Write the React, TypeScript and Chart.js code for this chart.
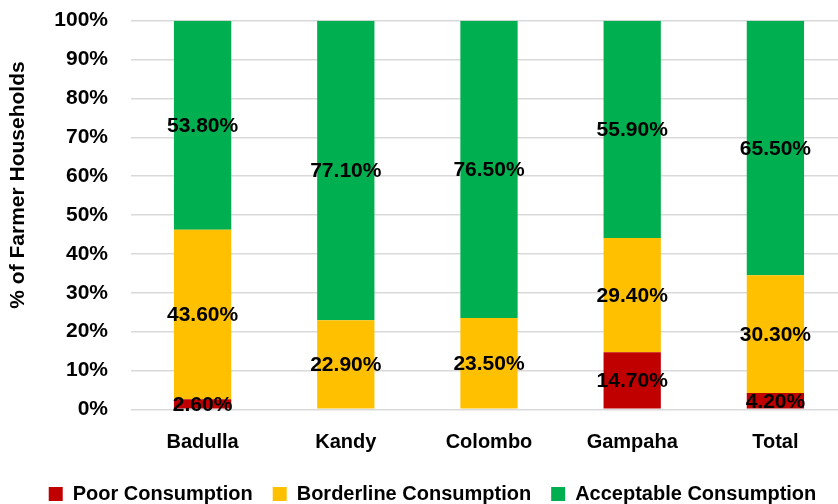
import { useEffect, useRef } from "react";
import { Chart, registerables } from "chart.js";

Chart.register(...registerables);

// Food consumption groups per district (% of farmer households)
const districts = ["Badulla", "Kandy", "Colombo", "Gampaha", "Total"];
const poorConsumption = [2.6, 0, 0, 14.7, 4.2];
const borderlineConsumption = [43.6, 22.9, 23.5, 29.4, 30.3];
const acceptableConsumption = [53.8, 77.1, 76.5, 55.9, 65.5];

const seriesNames = ["Poor Consumption", "Borderline Consumption", "Acceptable Consumption"];
const seriesColors = ["#C00000", "#FFC000", "#00B050"];

const yAxisTitle = "% of Farmer Households";
const yTickStep = 10;

const FONT_FAMILY = "'Liberation Sans', Arial, sans-serif";
const CANVAS_W = 865;
const CANVAS_H = 514;

// Percentage label centred inside each non-empty segment
const segmentLabels = {
  id: "segmentLabels",
  afterDatasetsDraw(chart: any) {
    const ctx = chart.ctx;
    ctx.save();
    ctx.font = `bold 21px ${FONT_FAMILY}`;
    ctx.fillStyle = "#000";
    ctx.textAlign = "center";
    ctx.textBaseline = "middle";
    chart.data.datasets.forEach((ds: any, di: number) => {
      const meta = chart.getDatasetMeta(di);
      meta.data.forEach((bar: any, i: number) => {
        const v = ds.data[i];
        if (!v) return;
        const { x, y, base } = bar.getProps(["x", "y", "base"], true);
        ctx.fillText(v.toFixed(2) + "%", x, (y + base) / 2 + 1);
      });
    });
    ctx.restore();
  },
};

// Rotated title beside the value axis
const valueAxisTitle = {
  id: "valueAxisTitle",
  afterDraw(chart: any) {
    const { ctx, chartArea } = chart;
    ctx.save();
    ctx.translate(18, (chartArea.top + chartArea.bottom) / 2 - 30);
    ctx.rotate(-Math.PI / 2);
    ctx.font = `bold 21px ${FONT_FAMILY}`;
    ctx.fillStyle = "#000";
    ctx.textAlign = "center";
    ctx.textBaseline = "middle";
    ctx.fillText(yAxisTitle, 0, 0);
    ctx.restore();
  },
};

export default function App() {
  const canvasRef = useRef<HTMLCanvasElement | null>(null);

  useEffect(() => {
    if (!canvasRef.current) return;
    const labelFont = { family: FONT_FAMILY, size: 20, weight: "bold" as const };
    const valueFont = { family: FONT_FAMILY, size: 21, weight: "bold" as const };
    const values = [poorConsumption, borderlineConsumption, acceptableConsumption];

    const chart = new Chart(canvasRef.current, {
      type: "bar",
      data: {
        labels: districts,
        datasets: values.map((data, i) => ({
          label: seriesNames[i],
          data,
          backgroundColor: seriesColors[i],
          borderWidth: 0,
          categoryPercentage: 1,
          barPercentage: 0.4,
        })),
      },
      options: {
        responsive: false,
        animation: false,
        devicePixelRatio: 1,
        layout: { padding: { top: 20.7, left: 0, right: 0, bottom: 0 } },
        plugins: {
          tooltip: { enabled: false },
          legend: {
            position: "bottom",
            labels: {
              boxWidth: 14,
              boxHeight: 14,
              padding: 20,
              color: "#000",
              font: labelFont,
            },
          },
        },
        scales: {
          x: {
            stacked: true,
            grid: { display: false },
            border: { display: false },
            ticks: { color: "#000", font: labelFont, padding: 13, maxRotation: 0 },
            afterFit(scale: any) {
              scale.height = 54.7;
            },
          },
          y: {
            stacked: true,
            min: 0,
            max: 100,
            grid: { color: "#d9d9d9", lineWidth: 1.5, drawTicks: false },
            border: { display: false },
            ticks: {
              stepSize: yTickStep,
              color: "#000",
              font: valueFont,
              padding: 23,
              callback: (v: any) => `${v}%`,
            },
            afterFit(scale: any) {
              scale.width = 131;
              scale.paddingTop = 0;
              scale.paddingBottom = 0;
            },
          },
          spacer: {
            type: "linear",
            position: "right",
            display: true,
            grid: { display: false },
            border: { display: false },
            ticks: { display: false },
            afterFit(scale: any) {
              scale.width = 18;
              scale.paddingTop = 0;
              scale.paddingBottom = 0;
            },
          },
        },
      } as any,
      plugins: [segmentLabels, valueAxisTitle],
    });
    return () => chart.destroy();
  }, []);

  return (
    <div
      style={{
        position: "fixed",
        left: 0,
        top: 0,
        width: 838,
        height: 504,
        overflow: "hidden",
        background: "#fff",
      }}
    >
      <canvas
        ref={canvasRef}
        width={CANVAS_W}
        height={CANVAS_H}
        style={{ display: "block", width: CANVAS_W, height: CANVAS_H }}
      />
    </div>
  );
}
